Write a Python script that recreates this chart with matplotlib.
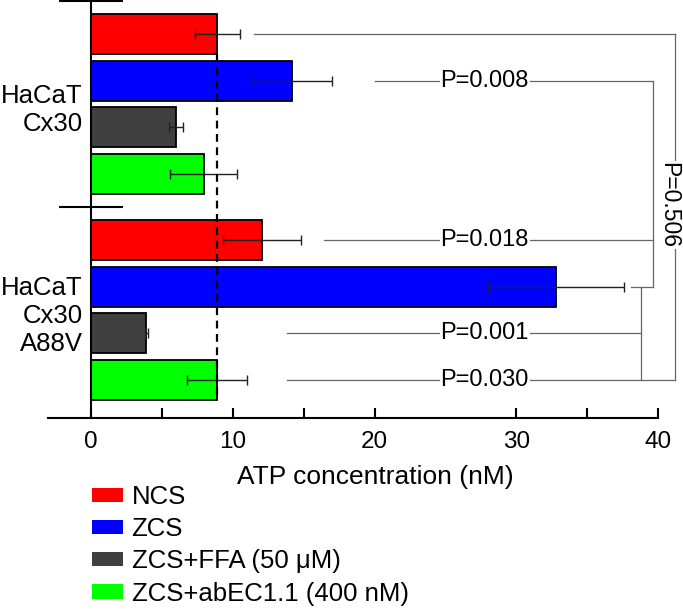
import numpy as np
import matplotlib
matplotlib.use("Agg")
import matplotlib.pyplot as plt
import matplotlib.patches as patches

plt.rcParams["font.family"] = ["Liberation Sans", "DejaVu Sans"]

# data (ATP concentration, nM)
groups = ["HaCaT\nCx30", "HaCaT\nCx30\nA88V"]
treatments = ["NCS", "ZCS", "ZCS+FFA (50 \u03bcM)", "ZCS+abEC1.1 (400 nM)"]
colors = ["#ff0000", "#0000ff", "#404040", "#00ff00"]
cx30_mean = [8.9, 14.2, 6.0, 7.95]
cx30_sd = [1.6, 2.8, 0.5, 2.35]
a88v_mean = [12.05, 32.8, 3.9, 8.88]
a88v_sd = [2.75, 4.8, 0.1, 2.1]
p_labels = ["P=0.008", "P=0.018", "P=0.001", "P=0.030", "P=0.506"]

W, H = 683, 610
fig = plt.figure(figsize=(W / 100, H / 100), dpi=100)

# axes placement in pixels
px_per_x = 14.18
x_min, x_max = -3, 41.5
ax_left = 91 + x_min * px_per_x
ax_w = (x_max - x_min) * px_per_x
ax_h = 418
ax = fig.add_axes([ax_left / W, 1 - ax_h / H, ax_w / W, ax_h / H])

px_per_y = 46.9
group_centers = [104 / px_per_y, 310 / px_per_y]
bar_h = 40 / px_per_y


def ypos(g, i):
    return group_centers[g] + (i - 1.5)


means = [cx30_mean, a88v_mean]
sds = [cx30_sd, a88v_sd]
for g in range(2):
    ys = [ypos(g, i) for i in range(4)]
    ax.barh(ys, means[g], height=bar_h, color=colors, edgecolor="black",
            linewidth=1.3, zorder=2)
    ax.errorbar(means[g], ys, xerr=sds[g], fmt="none", ecolor="#222222",
                elinewidth=1, capsize=3.5, capthick=1, zorder=4)

# reference dashed line at the Cx30 NCS level
ax.vlines(cx30_mean[0], ypos(0, 0) + bar_h / 2, ypos(1, 3) + bar_h / 2,
          colors="black", linestyles=(0, (3.5, 2.5)), linewidth=1.6, zorder=5)

# significance brackets
lc = "#666666"
lw = 0.9
x_in, x_mid, x_out = 38.76, 39.6, 41.2
x_txt = 27.76
segs = [
    (11.5, x_out, ypos(0, 0)),
    (20.0, x_mid, ypos(0, 1)),
    (16.4, x_mid, ypos(1, 0)),
    (38.1, x_mid, ypos(1, 1)),
    (13.8, x_in, ypos(1, 2)),
    (13.8, x_out, ypos(1, 3)),
]
for x0, x1, yy in segs:
    ax.plot([x0, x1], [yy, yy], color=lc, lw=lw, zorder=1)
ax.plot([x_mid, x_mid], [ypos(0, 1), ypos(1, 1)], color=lc, lw=lw, zorder=1)
ax.plot([x_in, x_in], [ypos(1, 1), ypos(1, 3)], color=lc, lw=lw, zorder=1)
ax.plot([x_out, x_out], [ypos(0, 0), ypos(1, 3)], color=lc, lw=lw, zorder=1)

box = dict(facecolor="white", edgecolor="none", pad=0.6)
for lab, yy in zip(p_labels[:4], [ypos(0, 1), ypos(1, 0), ypos(1, 2), ypos(1, 3)]):
    ax.text(x_txt, yy, lab, ha="center", va="center", fontsize=17, bbox=box, zorder=6)
ax.text(x_out - 0.45, 205 / px_per_y, p_labels[4], ha="center", va="center",
        rotation=-90, fontsize=16.5, bbox=box, zorder=6, clip_on=False)

# group labels
for g, lab in enumerate(groups):
    ax.text(-0.6, group_centers[g] + 6 / px_per_y, lab, ha="right", va="center",
            multialignment="right", fontsize=18.5, linespacing=1.2)

ax.set_xlim(x_min, x_max)
ax.set_ylim(ax_h / px_per_y, 0)
for s in ["top", "right"]:
    ax.spines[s].set_visible(False)
ax.spines["left"].set_position(("data", 0))
ax.spines["bottom"].set_bounds(x_min, 40)
ax.spines["left"].set_linewidth(1.5)
ax.spines["bottom"].set_linewidth(1.5)

ax.set_xticks([0, 5, 10, 15, 20, 30, 35, 40],
              labels=["0", "", "10", "", "20", "30", "", "40"])
ax.tick_params(axis="x", direction="in", length=7, width=1.5, pad=9, labelsize=17.5)
ax.set_yticks([group_centers[0] - 2.2, sum(group_centers) / 2], labels=["", ""])
ax.tick_params(axis="y", direction="inout", length=46, width=1.5)

fig.text(375 / W, 1 - 477 / H, "ATP concentration (nM)", ha="center", va="center",
         fontsize=19)

handles = [patches.Patch(facecolor=c, edgecolor="none") for c in colors]
fig.legend(handles, treatments, loc="upper left", bbox_to_anchor=(92 / W, 1 - 485 / H),
           frameon=False, fontsize=18.5, handlelength=1.2, handleheight=0.47,
           handletextpad=0.34, labelspacing=0.32, borderpad=0, borderaxespad=0)

fig.savefig("out.png", dpi=100)
